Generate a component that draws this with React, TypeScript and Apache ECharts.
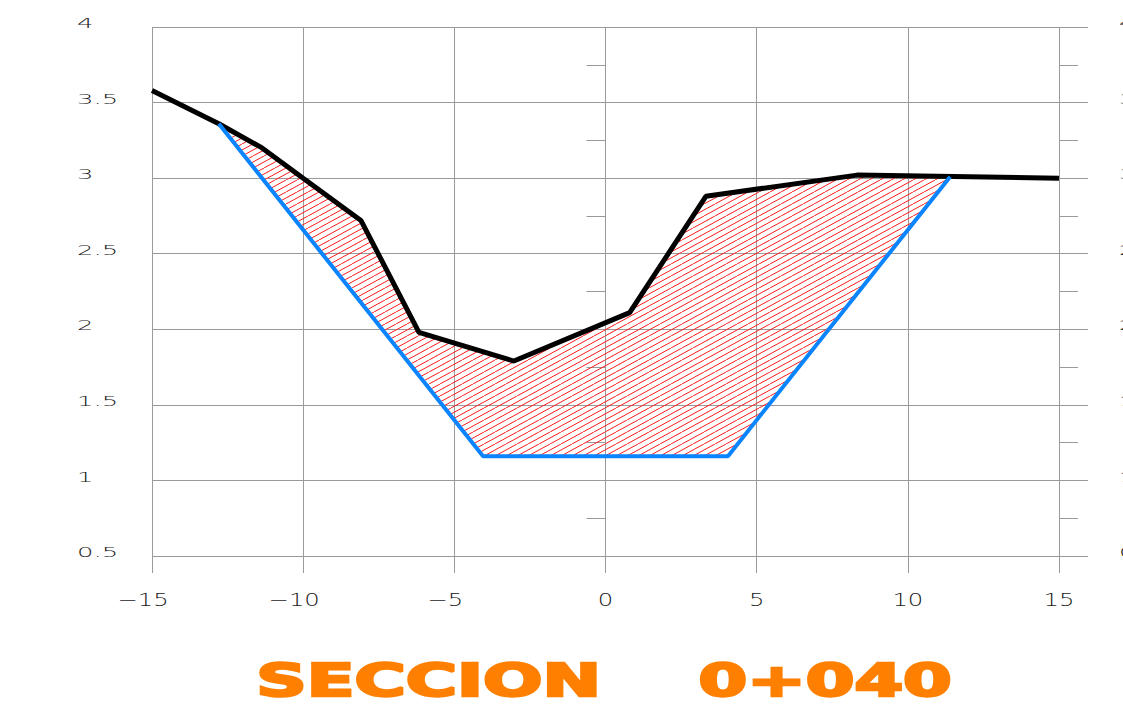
import React, { useEffect, useRef } from "react";
import * as echarts from "echarts";

// ---- data ----
const xTicks = [-15, -10, -5, 0, 5, 10, 15];
const xTickLabels = ["−15", "−10", "−5", "0", "5", "10", "15"];
const yTicks = [0.5, 1, 1.5, 2, 2.5, 3, 3.5, 4];
const yTickLabels = ["0.5", "1", "1.5", "2", "2.5", "3", "3.5", "4"];

// natural ground (black)
const groundX = [-15, -12.79, -11.36, -10.0, -8.09, -6.17, -3.03, 0.8, 3.32, 8.32, 15];
const groundY = [3.58, 3.36, 3.2, 3.0, 2.72, 1.98, 1.79, 2.11, 2.88, 3.02, 3.0];
// design section (blue)
const designX = [-12.79, -4.05, 4.05, 11.4];
const designY = [3.36, 1.16, 1.16, 3.01];

const titleText = "SECCION    0+040";

const X_MIN = -15, X_MAX = 15, Y_MIN = 0.5, Y_MAX = 4;

const GRID_COLOR = "#9a9a9a";
const LABEL_FONT = '"DejaVu Sans", sans-serif';

function makeHatch() {
  const w = 22, h = 12;
  const c = document.createElement("canvas");
  c.width = w;
  c.height = h;
  const ctx = c.getContext("2d")!;
  ctx.strokeStyle = "#ff1a1a";
  ctx.lineWidth = 1;
  for (const dx of [-w, -w / 2, 0, w / 2, w]) {
    ctx.beginPath();
    ctx.moveTo(dx, h);
    ctx.lineTo(dx + w, 0);
    ctx.stroke();
  }
  return { image: c.toDataURL(), repeat: "repeat", imageWidth: w, imageHeight: h };
}

export default function App() {
  const ref = useRef<HTMLDivElement>(null);

  useEffect(() => {
    if (!ref.current) return;
    const chart = echarts.init(ref.current, null, { renderer: "svg" });

    const ground = groundX.map((x, i) => [x, groundY[i]]);
    const design = designX.map((x, i) => [x, designY[i]]);
    const x0 = designX[0];
    const x1 = designX[designX.length - 1];
    const hatchPts = [
      ...design,
      ...ground.filter((p) => p[0] > x0 && p[0] < x1).reverse(),
    ];
    const hatch = makeHatch();

    const yAxisCommon = {
      type: "value",
      min: Y_MIN,
      max: Y_MAX,
      interval: 0.5,
      axisLine: { show: false },
      axisLabel: { show: false },
      axisTick: { show: true, length: 29, lineStyle: { color: GRID_COLOR, width: 1 } },
      minorTick: { show: true, splitNumber: 2, length: 19, lineStyle: { color: GRID_COLOR, width: 1 } },
    };

    const txt = (text: string, size: number, align: string) => ({
      text,
      fontSize: size,
      fontFamily: LABEL_FONT,
      fontWeight: 200,
      fill: "#1a1a1a",
      textAlign: align,
      align,
      textVerticalAlign: "middle",
      verticalAlign: "middle",
    });

    chart.setOption({
      animation: false,
      backgroundColor: "#ffffff",
      grid: { left: 152, right: 64, top: 27, bottom: 157, containLabel: false },
      xAxis: {
        type: "value",
        min: X_MIN,
        max: X_MAX,
        interval: 5,
        axisLine: { show: false },
        axisLabel: { show: false },
        axisTick: { show: true, length: 17, lineStyle: { color: GRID_COLOR, width: 1 } },
        splitLine: { show: true, lineStyle: { color: GRID_COLOR, width: 1 } },
      },
      yAxis: [
        {
          ...yAxisCommon,
          position: "left",
          splitLine: { show: true, lineStyle: { color: GRID_COLOR, width: 1 } },
        },
        {
          ...yAxisCommon,
          position: "right",
          splitLine: { show: false },
        },
      ],
      graphic: [
        {
          type: "text",
          x: 604,
          y: 681,
          scaleX: 1.59,
          style: {
            text: titleText,
            fontSize: 44,
            fontWeight: "bold",
            fontFamily: '"DejaVu Sans", sans-serif',
            fill: "#ff8000",
            stroke: "#ff8000",
            lineWidth: 2.5,
            textAlign: "center",
            align: "center",
            textVerticalAlign: "middle",
            verticalAlign: "middle",
          },
        },
      ],
      series: [
        {
          type: "custom",
          coordinateSystem: "cartesian2d",
          silent: true,
          z: 1,
          data: [[0, 2]],
          renderItem: (_p: any, api: any) => ({
            type: "polygon",
            shape: { points: hatchPts.map((p) => api.coord(p)) },
            style: { fill: hatch, stroke: null },
          }),
        },
        {
          type: "line",
          data: ground,
          symbol: "none",
          silent: true,
          z: 3,
          clip: false,
          lineStyle: { color: "#000000", width: 5 },
        },
        {
          type: "line",
          data: design,
          symbol: "none",
          silent: true,
          z: 4,
          clip: false,
          lineStyle: { color: "#0a84ff", width: 4 },
        },
        {
          // y-axis tick labels (both sides), stretched like the CAD font
          type: "custom",
          coordinateSystem: "cartesian2d",
          silent: true,
          z: 5,
          data: yTicks.map((v) => [X_MIN, v]),
          renderItem: (params: any, api: any) => {
            const i = params.dataIndex;
            const l = api.coord([X_MIN, yTicks[i]]);
            const r = api.coord([X_MAX, yTicks[i]]);
            return {
              type: "group",
              children: [
                { type: "text", x: l[0] - 75, y: l[1] - 3.5, scaleX: 1.85, style: txt(yTickLabels[i], 14, "left") },
                { type: "text", x: r[0] + 60, y: r[1] - 3.5, scaleX: 1.85, style: txt(yTickLabels[i], 14, "left") },
              ],
            };
          },
        },
        {
          // x-axis tick labels
          type: "custom",
          coordinateSystem: "cartesian2d",
          silent: true,
          z: 5,
          data: xTicks.map((v) => [v, Y_MIN]),
          renderItem: (params: any, api: any) => {
            const i = params.dataIndex;
            const p = api.coord([xTicks[i], Y_MIN]);
            const shift = xTicks[i] < 0 ? -9 : 0;
            return {
              type: "text",
              x: p[0] + shift,
              y: p[1] + 44,
              scaleX: 1.35,
              style: txt(xTickLabels[i], 18, "center"),
            };
          },
        },
      ],
    });

    return () => chart.dispose();
  }, []);

  return (
    <div
      ref={ref}
      style={{ position: "absolute", left: 0, top: 0, width: 1123, height: 713 }}
    />
  );
}
